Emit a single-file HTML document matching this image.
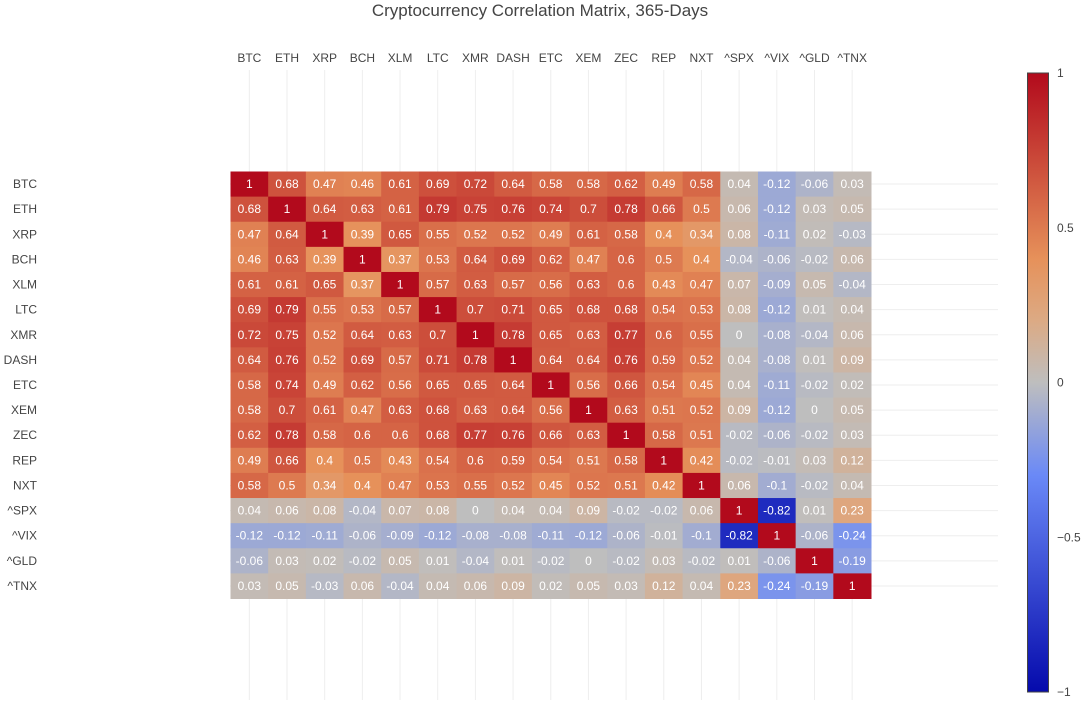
<!DOCTYPE html>
<html><head><meta charset="utf-8"><style>
body{margin:0;background:#fff;font-family:"Liberation Sans",sans-serif}
svg{display:block}
</style></head><body>
<svg id="chart" width="1088" height="721"></svg>
<script>
const categories=["BTC","ETH","XRP","BCH","XLM","LTC","XMR","DASH","ETC","XEM","ZEC","REP","NXT","^SPX","^VIX","^GLD","^TNX"];
const rowBTC=[1,0.68,0.47,0.46,0.61,0.69,0.72,0.64,0.58,0.58,0.62,0.49,0.58,0.04,-0.12,-0.06,0.03];
const rowETH=[0.68,1,0.64,0.63,0.61,0.79,0.75,0.76,0.74,0.7,0.78,0.66,0.5,0.06,-0.12,0.03,0.05];
const rowXRP=[0.47,0.64,1,0.39,0.65,0.55,0.52,0.52,0.49,0.61,0.58,0.4,0.34,0.08,-0.11,0.02,-0.03];
const rowBCH=[0.46,0.63,0.39,1,0.37,0.53,0.64,0.69,0.62,0.47,0.6,0.5,0.4,-0.04,-0.06,-0.02,0.06];
const rowXLM=[0.61,0.61,0.65,0.37,1,0.57,0.63,0.57,0.56,0.63,0.6,0.43,0.47,0.07,-0.09,0.05,-0.04];
const rowLTC=[0.69,0.79,0.55,0.53,0.57,1,0.7,0.71,0.65,0.68,0.68,0.54,0.53,0.08,-0.12,0.01,0.04];
const rowXMR=[0.72,0.75,0.52,0.64,0.63,0.7,1,0.78,0.65,0.63,0.77,0.6,0.55,0,-0.08,-0.04,0.06];
const rowDASH=[0.64,0.76,0.52,0.69,0.57,0.71,0.78,1,0.64,0.64,0.76,0.59,0.52,0.04,-0.08,0.01,0.09];
const rowETC=[0.58,0.74,0.49,0.62,0.56,0.65,0.65,0.64,1,0.56,0.66,0.54,0.45,0.04,-0.11,-0.02,0.02];
const rowXEM=[0.58,0.7,0.61,0.47,0.63,0.68,0.63,0.64,0.56,1,0.63,0.51,0.52,0.09,-0.12,0,0.05];
const rowZEC=[0.62,0.78,0.58,0.6,0.6,0.68,0.77,0.76,0.66,0.63,1,0.58,0.51,-0.02,-0.06,-0.02,0.03];
const rowREP=[0.49,0.66,0.4,0.5,0.43,0.54,0.6,0.59,0.54,0.51,0.58,1,0.42,-0.02,-0.01,0.03,0.12];
const rowNXT=[0.58,0.5,0.34,0.4,0.47,0.53,0.55,0.52,0.45,0.52,0.51,0.42,1,0.06,-0.1,-0.02,0.04];
const rowSPX=[0.04,0.06,0.08,-0.04,0.07,0.08,0,0.04,0.04,0.09,-0.02,-0.02,0.06,1,-0.82,0.01,0.23];
const rowVIX=[-0.12,-0.12,-0.11,-0.06,-0.09,-0.12,-0.08,-0.08,-0.11,-0.12,-0.06,-0.01,-0.1,-0.82,1,-0.06,-0.24];
const rowGLD=[-0.06,0.03,0.02,-0.02,0.05,0.01,-0.04,0.01,-0.02,0,-0.02,0.03,-0.02,0.01,-0.06,1,-0.19];
const rowTNX=[0.03,0.05,-0.03,0.06,-0.04,0.04,0.06,0.09,0.02,0.05,0.03,0.12,0.04,0.23,-0.24,-0.19,1];
const matrix=[rowBTC,rowETH,rowXRP,rowBCH,rowXLM,rowLTC,rowXMR,rowDASH,rowETC,rowXEM,rowZEC,rowREP,rowNXT,rowSPX,rowVIX,rowGLD,rowTNX];
const cbTicks=[1,0.5,0,-0.5,-1];
const cbTickLabels=["1","0.5","0","−0.5","−1"];

const NS="http://www.w3.org/2000/svg";
const svg=document.getElementById('chart');
function mk(t,a,p){const e=document.createElementNS(NS,t);for(const k in a)e.setAttribute(k,a[k]);(p||svg).appendChild(e);return e;}
const x0=230.5,x1=871,y0=171.5,y1=598.5;
const cw=(x1-x0)/categories.length, ch=(y1-y0)/categories.length;
const xc=i=>x0+cw*(i+0.5), yc=j=>y0+ch*(j+0.5);
const scale=[[0,[5,10,172]],[0.35,[106,137,247]],[0.5,[190,190,190]],[0.6,[220,170,132]],[0.7,[230,145,90]],[1,[178,10,28]]];
function color(v){const t=(v+1)/2;for(let i=1;i<scale.length;i++){if(t<=scale[i][0]){const a=scale[i-1],b=scale[i];const f=(t-a[0])/(b[0]-a[0]);const c=a[1].map((q,k)=>Math.round(q+(b[1][k]-q)*f));return `rgb(${c})`;}}return 'rgb(178,10,28)';}

const title=mk('text',{x:540,y:16,'text-anchor':'middle','font-size':17,fill:'#444'});
title.textContent='Cryptocurrency Correlation Matrix, 365-Days';



const grid=mk('g',{});


categories.forEach((c,i)=>{
  mk('line',{x1:xc(i),x2:xc(i),y1:70,y2:700,stroke:'#eee','stroke-width':1},grid);
  mk('line',{x1:230,x2:998,y1:yc(i),y2:yc(i),stroke:'#eee','stroke-width':1},grid);
});

const cells=mk('g',{});


matrix.forEach((row,j)=>row.forEach((v,i)=>{
  const r=mk('rect',{x:x0+cw*i,y:y0+ch*j,width:cw+0.5,height:ch+0.5,fill:color(v)},cells);
  
  
  const t=mk('text',{x:xc(i),y:yc(j)+4,'text-anchor':'middle','font-size':12,fill:'#fff'},cells);
  t.textContent=String(v);
  
  
}));

categories.forEach((c,i)=>{
  const t=mk('text',{x:xc(i),y:62,'text-anchor':'middle','font-size':12,fill:'#444'});
  t.textContent=c;
  
  
  const u=mk('text',{x:37,y:yc(i)+4,'text-anchor':'end','font-size':12,fill:'#444'});
  u.textContent=c;
  
  
});

const defs=mk('defs',{});
const lg=mk('linearGradient',{id:'cbg',x1:0,y1:1,x2:0,y2:0},defs);
scale.forEach(s=>mk('stop',{offset:s[0],'stop-color':`rgb(${s[1]})`},lg));
const cbTop=73,cbBot=692;
const cb=mk('rect',{x:1027.5,y:cbTop,width:21,height:cbBot-cbTop,fill:'url(#cbg)',stroke:'#444','stroke-width':1});


cbTicks.forEach((v,k)=>{
  const y=cbBot-(v+1)/2*(cbBot-cbTop);
  const t=mk('text',{x:1057,y:y+4,'font-size':12,fill:'#444'});
  t.textContent=cbTickLabels[k];
  
  
});
</script>
</body></html>
